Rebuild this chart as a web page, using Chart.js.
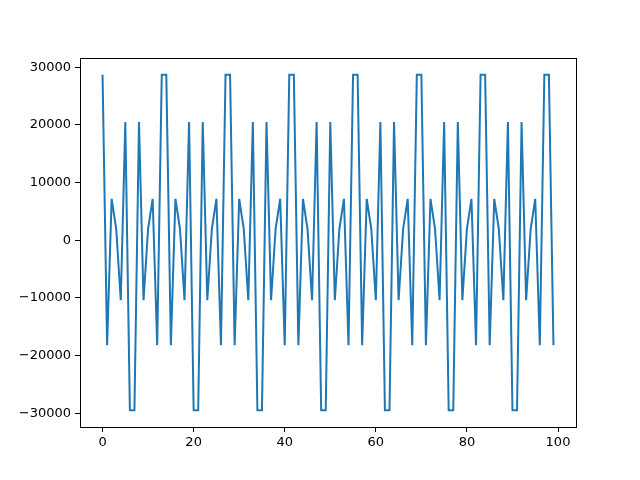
<!DOCTYPE html>
<html>
<head>
<meta charset="utf-8">
<script src="https://cdn.jsdelivr.net/npm/chart.js@4.4.1/dist/chart.umd.min.js"></script>
<style>
  html, body { margin: 0; padding: 0; background: #fff; }
  #wrap { width: 640px; height: 480px; }
</style>
</head>
<body>
<div id="wrap"><canvas id="plot" width="640" height="480"></canvas></div>
<script>
// Data (one value per integer x, 0..99)
const yValues = [
  28700, -18200, 7200, 2000, -10400, 20500, -29460, -29460, 20500, -10400, 2000, 7200, -18200, 28700,
  28700, -18200, 7200, 2000, -10400, 20500, -29460, -29460, 20500, -10400, 2000, 7200, -18200, 28700,
  28700, -18200, 7200, 2000, -10400, 20500, -29460, -29460, 20500, -10400, 2000, 7200, -18200, 28700,
  28700, -18200, 7200, 2000, -10400, 20500, -29460, -29460, 20500, -10400, 2000, 7200, -18200, 28700,
  28700, -18200, 7200, 2000, -10400, 20500, -29460, -29460, 20500, -10400, 2000, 7200, -18200, 28700,
  28700, -18200, 7200, 2000, -10400, 20500, -29460, -29460, 20500, -10400, 2000, 7200, -18200, 28700,
  28700, -18200, 7200, 2000, -10400, 20500, -29460, -29460, 20500, -10400, 2000, 7200, -18200, 28700,
  28700, -18200
];
const xTicks = [0, 20, 40, 60, 80, 100];
const yTicks = [-30000, -20000, -10000, 0, 10000, 20000, 30000];

const points = yValues.map((v, i) => ({ x: i, y: v }));

// matplotlib style: unicode minus for negatives
const fmt = v => (v < 0 ? '\u2212' + Math.abs(v) : String(v));

// draws the top and right spines so the axes form a closed box
const boxPlugin = {
  id: 'box',
  afterDraw(chart) {
    const { ctx, chartArea: a } = chart;
    ctx.save();
    ctx.strokeStyle = '#000';
    ctx.lineWidth = 1;
    ctx.strokeRect(Math.round(a.left) + 0.5, Math.round(a.top) + 0.5,
      Math.round(a.right - a.left), Math.round(a.bottom - a.top));
    ctx.restore();
  }
};

const tickFont = { family: "'DejaVu Sans', sans-serif", size: 13 };

new Chart(document.getElementById('plot').getContext('2d'), {
  type: 'line',
  data: {
    datasets: [{
      data: points,
      borderColor: '#1f77b4',
      borderWidth: 2,
      pointRadius: 0,
      tension: 0,
      fill: false
    }]
  },
  options: {
    responsive: false,
    animation: false,
    devicePixelRatio: 1,
    layout: { padding: { top: 58, right: 64, left: 0, bottom: 0 } },
    plugins: { legend: { display: false }, tooltip: { enabled: false } },
    scales: {
      x: {
        type: 'linear',
        min: -4.95,
        max: 103.95,
        afterBuildTicks: s => { s.ticks = xTicks.map(v => ({ value: v })); },
        afterFit: s => { s.height = 53; },
        grid: { display: true, drawOnChartArea: false, drawTicks: true, tickLength: 5, color: '#000' },
        border: { display: true, color: '#000', width: 1 },
        ticks: { color: '#000', font: tickFont, padding: 3, maxRotation: 0, callback: fmt }
      },
      y: {
        type: 'linear',
        min: -32368,
        max: 31608,
        afterBuildTicks: s => { s.ticks = yTicks.map(v => ({ value: v })); },
        afterFit: s => { s.width = 80; },
        grid: { display: true, drawOnChartArea: false, drawTicks: true, tickLength: 5, color: '#000' },
        border: { display: true, color: '#000', width: 1 },
        ticks: { color: '#000', font: tickFont, padding: 4, callback: fmt }
      }
    }
  },
  plugins: [boxPlugin]
});
</script>
</body>
</html>
